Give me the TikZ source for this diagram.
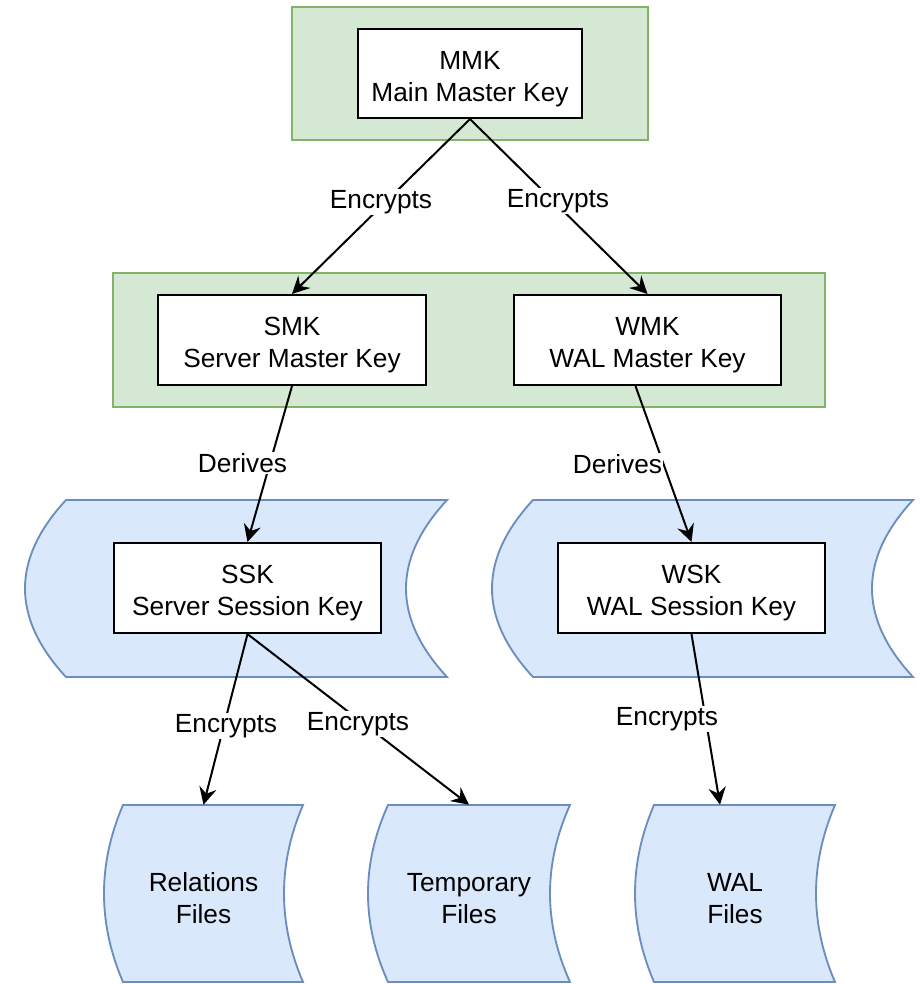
\documentclass[tikz,border=0pt]{standalone}
\usepackage{fontspec}
\setmainfont{Liberation Sans}
\usetikzlibrary{arrows.meta,calc}
\definecolor{gfill}{HTML}{D5E8D4}
\definecolor{gline}{HTML}{82B366}
\definecolor{bfill}{HTML}{DAE8FC}
\definecolor{bline}{HTML}{6C8EBF}
% data storage shape: #1 name, #2 L, #3 T, #4 R, #5 B, #6 curve depth, #7 text
\newcommand{\dsShape}[7]{%
  \pgfmathsetmacro\dsW{(#4-#2)*0.75}%
  \pgfmathsetmacro\dsH{(#5-#3)*0.75}%
  \pgfmathsetmacro\dsX{(#2+#4)/2}%
  \pgfmathsetmacro\dsY{(#3+#5)/2}%
  \pgfmathsetmacro\dsA{#2+#6}%
  \pgfmathsetmacro\dsCL{#2-#6/3}%
  \pgfmathsetmacro\dsCR{#4-4*#6/3}%
  \pgfmathsetmacro\dsU{#3+(#5-#3)/3}%
  \pgfmathsetmacro\dsD{#5-(#5-#3)/3}%
  \draw[storeline] (\dsA,#3) -- (#4,#3) .. controls (\dsCR,\dsU) and (\dsCR,\dsD) .. (#4,#5) -- (\dsA,#5) .. controls (\dsCL,\dsD) and (\dsCL,\dsU) .. cycle;
  \node[txt, minimum width=\dsW pt, minimum height=\dsH pt] (#1) at (\dsX,\dsY) {#7};
}
\newcommand{\topstrut}[1]{\rule{0pt}{#1}}
\begin{document}
\begin{tikzpicture}[x=0.75pt,y=-0.75pt,
  every node/.style={font=\fontsize{19.7}{24}\selectfont, align=center},
  group/.style={draw=gline, fill=gfill, line width=1.4pt, inner sep=0pt},
  keybox/.style={draw=black, fill=white, line width=1.6pt, inner sep=0pt, minimum height=67.5pt, minimum width=200.5pt},
  storeline/.style={draw=bline, fill=bfill, line width=1.4pt},
  txt/.style={inner sep=0pt},
  lbl/.style={fill=white, inner sep=1pt},
  arr/.style={-{Stealth[length=13pt,width=13pt,inset=4.5pt]}, line width=1.5pt, draw=black}]
\useasboundingbox (0,0) rectangle (922,984);

% green groups
\node[group, minimum width=267pt, minimum height=99.75pt] (topgrp) at (470,73.5) {};
\node[group, minimum width=534pt, minimum height=100.5pt] (midgrp) at (469,340) {};

% blue session containers
\dsShape{sskstore}{25}{500}{447}{677}{41}{}
\dsShape{wskstore}{492}{500}{913}{677}{41}{}

% key boxes
\node[keybox, minimum width=168pt, minimum height=66.75pt] (mmk) at (470,73.5) {\topstrut{22pt}MMK\\Main Master Key};
\node[keybox] (smk) at (292,340) {\topstrut{22pt}SMK\\Server Master Key};
\node[keybox] (wmk) at (647.5,340) {\topstrut{22pt}WMK\\WAL Master Key};
\node[keybox] (ssk) at (247.5,588) {\topstrut{22pt}SSK\\Server Session Key};
\node[keybox] (wsk) at (691.5,588) {\topstrut{22pt}WSK\\WAL Session Key};

% files
\dsShape{rel}{104}{805}{303}{982}{19}{\topstrut{20.5pt}Relations\\Files}
\dsShape{tmp}{368}{805}{570}{982}{20}{\topstrut{20.5pt}Temporary\\Files}
\dsShape{wal}{635}{805}{835}{982}{19}{\topstrut{20.5pt}WAL\\Files}

% connectors
\draw[arr] (mmk.south) -- (smk.north);
\draw[arr] (mmk.south) -- (wmk.north);
\draw[arr] (smk.south) -- (ssk.north);
\draw[arr] ($(wmk.south)+(-12,0)$) -- (wsk.north);
\draw[arr] (ssk.south) -- (rel.north);
\draw[arr] (ssk.south) -- (tmp.north);
\draw[arr] (wsk.south) -- ($(wal.north)+(-15,0)$);

% labels
\node[lbl] (l1) at (381,202) {Encrypts};
\node[lbl] (l2) at (558,201) {Encrypts};
\node[lbl] (l3) at (242.5,463) {Derives};
\node[lbl] (l4) at (617.5,464) {Derives};
\node[lbl] (l5) at (226,726) {Encrypts};
\node[lbl] (l6) at (358,724) {Encrypts};
\node[lbl] (l7) at (667,719) {Encrypts};
\end{tikzpicture}
\end{document}
